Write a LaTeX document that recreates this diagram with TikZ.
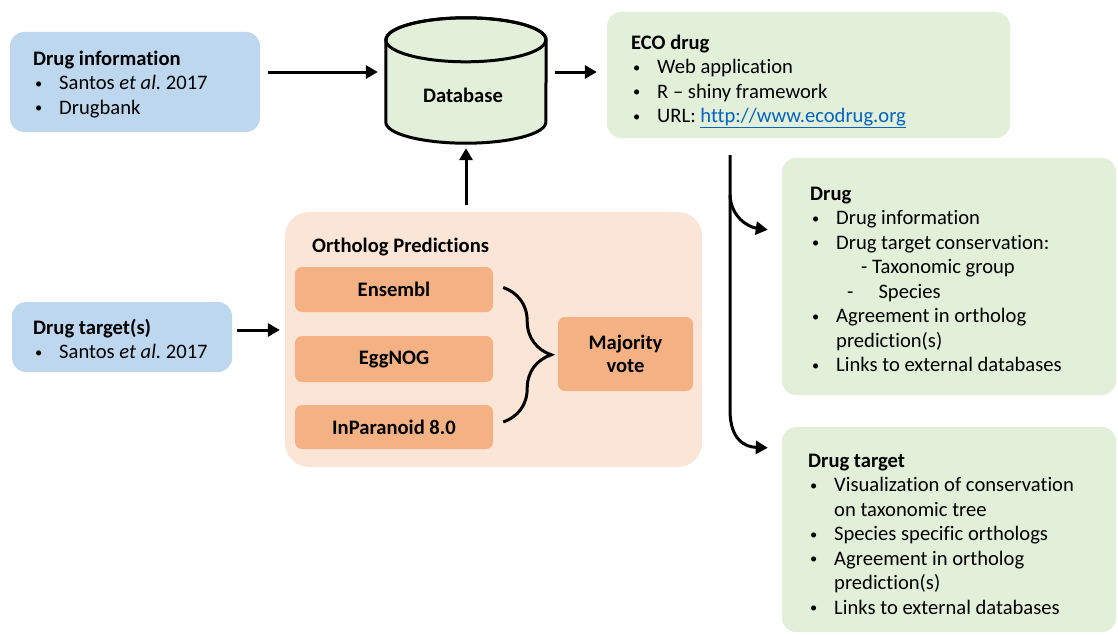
\documentclass[tikz,border=0pt]{standalone}
\usepackage{fontspec}
\setmainfont{Carlito}[Ligatures=NoCommon]
\usetikzlibrary{arrows.meta,decorations.pathreplacing}

\definecolor{srcblue}{HTML}{BDD7EE}
\definecolor{appgreen}{HTML}{E2EFD9}
\definecolor{orthbg}{HTML}{FBE5D6}
\definecolor{orthbox}{HTML}{F4B183}
\definecolor{linkblue}{HTML}{0563C1}

\newcommand{\bul}{\makebox[26pt][l]{\hspace{2pt}\raisebox{1.5pt}{\scalebox{0.7}{\textbullet}}}}
\newcommand{\wrapind}{\hspace*{26pt}}

\begin{document}
\begin{tikzpicture}[x=1pt,y=-1pt,
    panel/.style={rectangle,rounded corners=14pt,inner sep=0pt},
    tool/.style={rectangle,rounded corners=7pt,fill=orthbox,inner sep=0pt,
      font=\fontsize{20.6}{23}\selectfont\bfseries,align=center},
    txt/.style={anchor=base west,align=left,inner sep=0pt,
      font=\fontsize{20.6}{24.5}\selectfont},
    flow/.style={line width=3pt,-{Triangle[length=12pt,width=13pt]}}]
    \useasboundingbox (0,0) rectangle (1118,634);

    \node[panel,fill=srcblue,minimum width=250pt,minimum height=100pt] (dinfo) at (135,82) {};
    \node[panel,fill=srcblue,minimum width=220pt,minimum height=70pt] (dtgt) at (122,337) {};
    \node[panel,fill=appgreen,minimum width=403pt,minimum height=126pt] (eco) at (808.5,75) {};
    \node[panel,fill=appgreen,minimum width=334pt,minimum height=237pt] (drug) at (949,276.5) {};
    \node[panel,fill=appgreen,minimum width=334pt,minimum height=205pt] (dtarget) at (949,529.5) {};
    \node[panel,fill=orthbg,rounded corners=24pt,minimum width=417pt,minimum height=255pt] (ortho) at (493.5,339.5) {};

    \node[inner sep=0pt,minimum width=160pt,minimum height=125pt] (db) at (466,80.5) {};
    \draw[line width=3pt,fill=appgreen] ([shift={(0,22)}]db.north west) -- ([shift={(0,-21)}]db.south west)
      arc[start angle=180,end angle=360,x radius=80pt,y radius=21pt]
      -- ([shift={(0,22)}]db.north east)
      arc[start angle=0,end angle=180,x radius=80pt,y radius=22pt] -- cycle;
    \draw[line width=3pt] ([shift={(80,22)}]db.north west) ellipse[x radius=80pt,y radius=22pt];
    \node[font=\fontsize{20.6}{24}\selectfont\bfseries] (dbT) at (463,95) {Database};

    \node[tool,minimum width=198pt,minimum height=45pt] (ens) at (394,289.5) {Ensembl};
    \node[tool,minimum width=198pt,minimum height=46pt] (egg) at (394,359) {EggNOG};
    \node[tool,minimum width=198pt,minimum height=44pt] (inp) at (394,427) {InParanoid 8.0};
    \node[tool,minimum width=135pt,minimum height=74pt] (vote) at (625.5,354) {Majority\\vote};

    \node[txt] (dinfoT) at (33,114) {\textbf{Drug information}\\
      \bul Santos \textit{et al.}\ 2017\\
      \bul Drugbank};
    \node[txt] (dtgtT) at (33,358.5) {\textbf{Drug target(s)}\\
      \bul Santos \textit{et al.}\ 2017};
    \node[txt] (ecoT) at (631,122.5) {\textbf{ECO drug}\\
      \bul Web application\\
      \bul R -- shiny framework\\
      \bul URL: \textcolor{linkblue}{\underline{http://www.ecodrug.org}}};
    \node[txt] (drugT) at (810,371.5) {\textbf{Drug}\\
      \bul Drug information\\
      \bul Drug target conservation:\\
      \hspace*{51pt}- Taxonomic group\\
      \hspace*{37pt}-\hspace{25pt}Species\\
      \bul Agreement in ortholog\\
      \wrapind prediction(s)\\
      \bul Links to external databases};
    \node[txt] (dtargetT) at (808,614) {\textbf{Drug target}\\
      \bul Visualization of conservation\\
      \wrapind on taxonomic tree\\
      \bul Species specific orthologs\\
      \bul Agreement in ortholog\\
      \wrapind prediction(s)\\
      \bul Links to external databases};
    \node[txt] (orthoT) at (312,252) {\textbf{Ortholog Predictions}};

    \coordinate (split) at (730,155);
    \coordinate (fork) at (730,195);
    \coordinate (bend) at (730,410);

    \draw[flow] ([shift={(8,-10)}]dinfo.east) -- ([shift={(-8,-8.5)}]db.west);
    \draw[flow] ([shift={(9,-8.5)}]db.east) -- ([shift={(-10,-3)}]eco.west);
    \draw[flow] ([shift={(0,-7)}]ortho.north -| db.south) -- ([shift={(0,5)}]db.south);
    \draw[flow] ([shift={(5,-7)}]dtgt.east) -- ([shift={(-5,-9.5)}]ortho.west);
    \draw[flow] (split) -- (bend) .. controls (730,440) and (745,447) .. ([shift={(-14,21)}]dtarget.north west);
    \draw[flow] (fork) .. controls (731,217) and (748,227) .. ([shift={(-14,72)}]drug.north west);

    \draw[line width=3pt,decorate,decoration={brace,amplitude=48pt}]
      ([shift={(10,-2)}]ens.east) -- ([shift={(10,-5)}]inp.east);
\end{tikzpicture}
\end{document}
